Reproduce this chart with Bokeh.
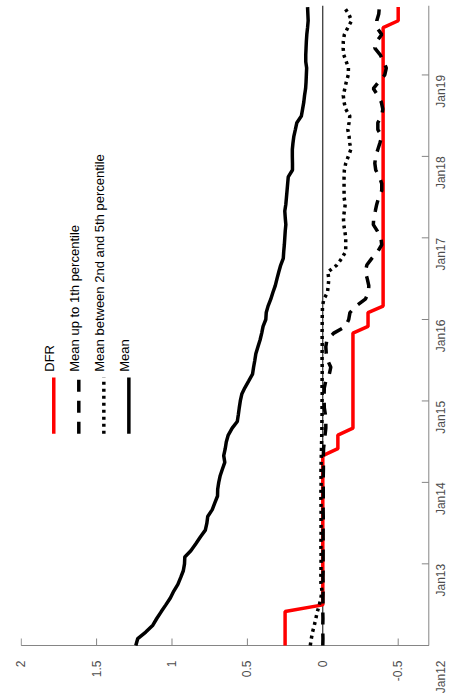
from math import pi
from datetime import datetime
import pandas as pd
from bokeh.plotting import figure
from bokeh.models import Range1d, FixedTicker, CustomJSTickFormatter
from bokeh.core.properties import value
from bokeh.embed import file_html
from bokeh.resources import INLINE

# ---------------- data ----------------
months = pd.date_range("2012-01-01", periods=95, freq="MS")

dfr = [0.25, 0.25, 0.25, 0.25, 0.25, 0.25,
       0.0, 0.0, 0.0, 0.0, 0.0, 0.0,
       0.0, 0.0, 0.0, 0.0, 0.0, 0.0, 0.0, 0.0, 0.0, 0.0, 0.0, 0.0,
       0.0, 0.0, 0.0, 0.0, 0.0, -0.1, -0.1, -0.1, -0.2, -0.2, -0.2, -0.2,
       -0.2, -0.2, -0.2, -0.2, -0.2, -0.2, -0.2, -0.2, -0.2, -0.2, -0.2, -0.3,
       -0.3, -0.3, -0.4, -0.4, -0.4, -0.4, -0.4, -0.4, -0.4, -0.4, -0.4, -0.4,
       -0.4, -0.4, -0.4, -0.4, -0.4, -0.4, -0.4, -0.4, -0.4, -0.4, -0.4, -0.4,
       -0.4, -0.4, -0.4, -0.4, -0.4, -0.4, -0.4, -0.4, -0.4, -0.4, -0.4, -0.4,
       -0.4, -0.4, -0.4, -0.4, -0.4, -0.4, -0.4, -0.4, -0.5, -0.5, -0.5]

mean_p1 = [0.0, -0.001, 0.0, 0.0, -0.001, 0.0, -0.001, -0.001, -0.002, -0.002, -0.001, -0.002,
           -0.002, -0.002, -0.002, -0.003, -0.002, -0.002, -0.003, -0.003, -0.002, -0.003, -0.003, -0.003,
           -0.003, -0.003, -0.004, -0.004, -0.004, -0.005, -0.010, -0.015, -0.020, -0.020, -0.017, -0.010,
           -0.009, -0.009, -0.010, -0.020, -0.043, -0.053, -0.033, -0.023, -0.020, -0.027, -0.073, -0.150,
           -0.172, -0.180, -0.220, -0.282, -0.303, -0.305, -0.295, -0.282, -0.292, -0.325, -0.365, -0.391,
           -0.385, -0.361, -0.335, -0.338, -0.348, -0.358, -0.371, -0.391, -0.391, -0.375, -0.351, -0.345,
           -0.351, -0.365, -0.378, -0.391, -0.365, -0.365, -0.391, -0.398, -0.388, -0.365, -0.335, -0.371,
           -0.411, -0.421, -0.404, -0.381, -0.345, -0.358, -0.391, -0.358, -0.358, -0.371, -0.375]

mean_p2_5 = [0.083, 0.076, 0.068, 0.056, 0.046, 0.036, 0.023, 0.013, 0.005, 0.012, 0.013, 0.012,
             0.012, 0.011, 0.012, 0.013, 0.012, 0.011, 0.012, 0.012, 0.011, 0.012, 0.013, 0.012,
             0.011, 0.012, 0.012, 0.011, 0.010, 0.009, 0.008, 0.007, 0.006, 0.006, 0.005, 0.005,
             0.005, 0.004, 0.005, 0.005, 0.004, 0.004, 0.005, 0.005, 0.004, 0.004, 0.005, 0.004,
             0.004, 0.003, 0.002, -0.007, -0.031, -0.036, -0.040, -0.033, -0.093, -0.126, -0.152, -0.152,
             -0.152, -0.146, -0.139, -0.137, -0.143, -0.149, -0.141, -0.141, -0.141, -0.141, -0.143, -0.152,
             -0.169, -0.186, -0.179, -0.174, -0.166, -0.174, -0.179, -0.152, -0.141, -0.136, -0.146, -0.156,
             -0.169, -0.170, -0.156, -0.139, -0.135, -0.136, -0.143, -0.166, -0.191, -0.172, -0.141]

mean_all = [1.240, 1.227, 1.174, 1.127, 1.101, 1.071, 1.041, 1.011, 0.988, 0.961, 0.942, 0.925,
            0.917, 0.915, 0.875, 0.842, 0.812, 0.779, 0.769, 0.763, 0.733, 0.716, 0.698, 0.697,
            0.690, 0.680, 0.666, 0.650, 0.657, 0.647, 0.640, 0.627, 0.601, 0.567, 0.560, 0.554,
            0.547, 0.537, 0.517, 0.491, 0.466, 0.459, 0.451, 0.444, 0.430, 0.416, 0.405, 0.396,
            0.378, 0.375, 0.363, 0.345, 0.331, 0.315, 0.304, 0.292, 0.279, 0.262, 0.259, 0.255,
            0.252, 0.249, 0.245, 0.249, 0.252, 0.245, 0.241, 0.237, 0.233, 0.229, 0.201, 0.201,
            0.202, 0.202, 0.198, 0.192, 0.182, 0.172, 0.142, 0.134, 0.126, 0.121, 0.114, 0.111,
            0.109, 0.107, 0.113, 0.113, 0.111, 0.109, 0.106, 0.101, 0.097, 0.099, 0.101]

series_labels = ["DFR", "Mean up to 1th percentile",
                 "Mean between 2nd and 5th percentile", "Mean"]

x_ticks = [2, 1.5, 1, 0.5, 0, -0.5]
x_tick_labels = ["2", "1.5", "1", "0.5", "0", "-0.5"]
y_tick_dates = [datetime(y, 1, 1) for y in range(2012, 2020)]
y_tick_labels = ["Jan12", "Jan13", "Jan14", "Jan15", "Jan16", "Jan17", "Jan18", "Jan19"]

# ---------------- layout geometry ----------------
FONT = "Liberation Sans"
AXIS_GRAY = "#858585"
LABEL_GRAY = "#4d4d4d"
PX_PER_UNIT = 150.8            # horizontal pixels per value unit
PX_PER_YEAR = 81.5             # vertical pixels per year
MS_PER_PX = 365.25 * 864e5 / PX_PER_YEAR
X_START = 2.0046               # value at the left frame edge
X_END = X_START - 429 / PX_PER_UNIT
X_AXIS = -0.703                # value where the right-hand axis is drawn
X_DATE_LAB = X_AXIS - 12 / PX_PER_UNIT
TICK_LEN_X = 7 / PX_PER_UNIT
TICK_LEN_Y = 7 * MS_PER_PX

ms = lambda d: pd.Timestamp(d).value / 1e6
T0 = ms(y_tick_dates[0])
Y_START = T0 - 2 * MS_PER_PX
Y_END = T0 + 640 * MS_PER_PX

p = figure(width=449, height=698,
           x_range=Range1d(X_START, X_END),
           y_range=Range1d(Y_START, Y_END),
           y_axis_location=None,
           output_backend="svg", toolbar_location=None,
           min_border_left=20, min_border_right=0,
           min_border_top=5, min_border_bottom=51)
p.outline_line_color = None
p.xgrid.visible = False
p.ygrid.visible = False
p.background_fill_color = "white"

# bottom axis: only its labels come from Bokeh (the first date label sits in this row too)
bottom_vals = x_ticks + [X_DATE_LAB]
bottom_labels = x_tick_labels + [y_tick_labels[0]]
JS = ("for (let i = 0; i < tvals.length; i++) {"
      " if (Math.abs(tvals[i] - tick) < 1e-9) return tlabels[i]; }"
      " return '';")
xa = p.xaxis[0]
xa.ticker = FixedTicker(ticks=bottom_vals)
xa.formatter = CustomJSTickFormatter(args=dict(tvals=bottom_vals, tlabels=bottom_labels), code=JS)
xa.axis_line_color = None
xa.major_tick_line_color = None
xa.minor_tick_line_color = None
xa.major_tick_in = 0
xa.major_tick_out = 0
xa.major_label_text_font = FONT
xa.major_label_text_font_size = "12px"
xa.major_label_text_color = LABEL_GRAY
xa.major_label_orientation = pi / 2
xa.major_label_standoff = 13

# zero reference line
p.segment(x0=[0], y0=[T0], x1=[0], y1=[Y_END], line_color="black", line_width=1)

# axis lines and inward ticks
p.segment(x0=[x_ticks[0]], y0=[T0], x1=[X_AXIS], y1=[T0], line_color=AXIS_GRAY, line_width=1)
p.segment(x0=[X_AXIS], y0=[T0], x1=[X_AXIS], y1=[Y_END], line_color=AXIS_GRAY, line_width=1)
p.segment(x0=x_ticks, y0=[T0] * len(x_ticks), x1=x_ticks, y1=[T0 + TICK_LEN_Y] * len(x_ticks),
          line_color=AXIS_GRAY, line_width=1)
y_tick_ms = [ms(d) for d in y_tick_dates]
p.segment(x0=[X_AXIS] * len(y_tick_ms), y0=y_tick_ms,
          x1=[X_AXIS + TICK_LEN_X] * len(y_tick_ms), y1=y_tick_ms,
          line_color=AXIS_GRAY, line_width=1)

# rotated date labels (top end at the tick)
p.text(x=[X_DATE_LAB] * (len(y_tick_ms) - 1), y=y_tick_ms[1:], text=y_tick_labels[1:],
       angle=pi / 2, text_align="right", text_baseline="middle",
       text_font=value(FONT), text_font_size="12px", text_color=LABEL_GRAY)

# ---------------- series ----------------
p.line(dfr, months, line_color="#ff0000", line_width=3.5)
p.line(mean_p1, months, line_color="black", line_width=3.5, line_dash="12 9")
p.line(mean_p2_5, months, line_color="black", line_width=3.5, line_dash="3 4")
p.line(mean_all, months, line_color="black", line_width=3.5)

# ---------------- rotated legend ----------------
leg_line_x = [1.784, 1.618, 1.452, 1.286]
leg_text_x = [1.812, 1.646, 1.480, 1.314]
leg_y0 = datetime(2014, 8, 7)
leg_y1 = datetime(2015, 4, 16)
leg_text_y = datetime(2015, 5, 12)
styles = [("#ff0000", "solid"), ("black", "12 9"), ("black", "3 4"), ("black", "solid")]
for lx, (col, dash) in zip(leg_line_x, styles):
    p.segment(x0=[lx], y0=[leg_y0], x1=[lx], y1=[leg_y1],
              line_color=col, line_width=3.5, line_dash=dash)
p.text(x=leg_text_x, y=[leg_text_y] * 4, text=series_labels, angle=pi / 2,
       text_align="left", text_baseline="middle",
       text_font=value(FONT), text_font_size="13px", text_color="black")

open("out.html", "w").write(file_html(p, INLINE))
